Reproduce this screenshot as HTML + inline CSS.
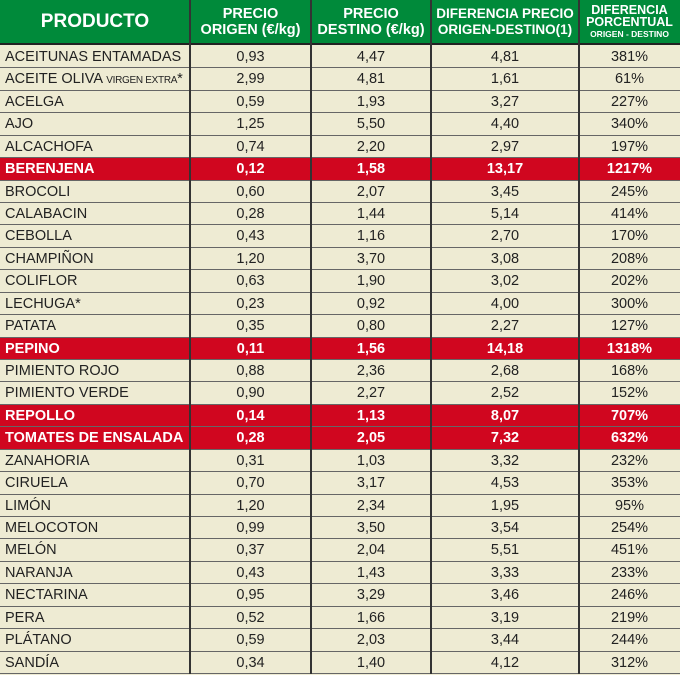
<!DOCTYPE html><html><head><style>
body{margin:0;width:680px;height:674px;overflow:hidden;background:#eeebd3;font-family:"Liberation Sans",Arial,sans-serif}
.hd{position:absolute;left:0;top:0;width:680px;height:45px;background:#008a3a;border-bottom:2px solid #222;box-sizing:border-box}
.hc{position:absolute;top:0;height:44px;color:#fff;font-weight:bold;text-align:center;display:flex;flex-direction:column;justify-content:center;line-height:16px;font-size:14.5px}
.r{position:absolute;left:0;width:680px;height:22.43px;border-bottom:1.5px solid #666;box-sizing:border-box;font-size:14.5px;color:#222}
.r.red{background:#d0061f;color:#fff;font-weight:bold}
.r span{position:absolute;top:0;line-height:23px;text-align:center}
.c0{left:5px;text-align:left!important}
.c1{left:190px;width:121px}.c2{left:311px;width:120px}.c3{left:431px;width:148px}.c4{left:579px;width:101px}
.v{position:absolute;top:0;height:674px;width:2px;background:#333}
small{font-size:10px;letter-spacing:-0.3px}
</style></head><body>
<div class="hd"></div>
<div class="hc" style="left:0;width:190px;font-size:19px">PRODUCTO</div>
<div class="hc" style="left:190px;width:121px">PRECIO<br>ORIGEN (€/kg)</div>
<div class="hc" style="left:311px;width:120px">PRECIO<br>DESTINO (€/kg)</div>
<div class="hc" style="left:431px;width:148px;font-size:13.5px">DIFERENCIA PRECIO<br>ORIGEN-DESTINO(1)</div>
<div class="hc" style="left:579px;width:101px;font-size:12.5px;line-height:12px">DIFERENCIA<br>PORCENTUAL<br><span style="font-size:8.5px">ORIGEN - DESTINO</span></div>
<div id="rows"></div>
<div class="v" style="left:189px"></div><div class="v" style="left:310px"></div><div class="v" style="left:430px"></div><div class="v" style="left:578px"></div>
<script>
var d=[["ACEITUNAS ENTAMADAS","0,93","4,47","4,81","381%"],["ACEITE OLIVA <small>VIRGEN EXTRA</small>*","2,99","4,81","1,61","61%"],["ACELGA","0,59","1,93","3,27","227%"],["AJO","1,25","5,50","4,40","340%"],["ALCACHOFA","0,74","2,20","2,97","197%"],["BERENJENA","0,12","1,58","13,17","1217%",1],["BROCOLI","0,60","2,07","3,45","245%"],["CALABACIN","0,28","1,44","5,14","414%"],["CEBOLLA","0,43","1,16","2,70","170%"],["CHAMPIÑON","1,20","3,70","3,08","208%"],["COLIFLOR","0,63","1,90","3,02","202%"],["LECHUGA*","0,23","0,92","4,00","300%"],["PATATA","0,35","0,80","2,27","127%"],["PEPINO","0,11","1,56","14,18","1318%",1],["PIMIENTO ROJO","0,88","2,36","2,68","168%"],["PIMIENTO VERDE","0,90","2,27","2,52","152%"],["REPOLLO","0,14","1,13","8,07","707%",1],["TOMATES DE ENSALADA","0,28","2,05","7,32","632%",1],["ZANAHORIA","0,31","1,03","3,32","232%"],["CIRUELA","0,70","3,17","4,53","353%"],["LIMÓN","1,20","2,34","1,95","95%"],["MELOCOTON","0,99","3,50","3,54","254%"],["MELÓN","0,37","2,04","5,51","451%"],["NARANJA","0,43","1,43","3,33","233%"],["NECTARINA","0,95","3,29","3,46","246%"],["PERA","0,52","1,66","3,19","219%"],["PLÁTANO","0,59","2,03","3,44","244%"],["SANDÍA","0,34","1,40","4,12","312%"]];
var h="";d.forEach(function(r,i){h+='<div class="r'+(r[5]?' red':'')+'" style="top:'+(46+i*22.43)+'px">';for(var j=0;j<5;j++)h+='<span class="c'+j+'">'+r[j]+'</span>';h+='</div>';});
document.getElementById("rows").innerHTML=h;
</script>
</body></html>
